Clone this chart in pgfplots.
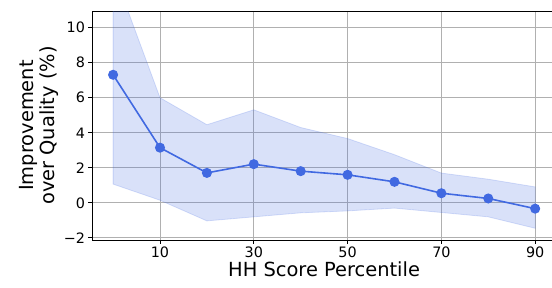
\documentclass[border=0pt]{standalone}
\usepackage{pgfplots}
\pgfplotsset{compat=1.18}
\usepackage{fontspec}
\setmainfont{DejaVu Sans}
\definecolor{rb}{RGB}{65,105,225}
\definecolor{gridc}{RGB}{176,176,176}
\begin{document}
\begin{tikzpicture}
\begin{axis}[
  scale only axis,
  width=471.3bp, height=229bp,
  xmin=-4.5, xmax=96,
  ymin=-2.12, ymax=10.95,
  xtick={10,30,50,70,90},
  ytick={-2,0,2,4,6,8,10},
  yticklabels={−2,0,2,4,6,8,10},
  /pgf/number format/assume math mode=true,
  tick label style={font=\fontsize{14.4}{16}\selectfont},
  label style={font=\fontsize{19.5}{22}\selectfont},
  tick align=outside,
  major tick length=3.5bp,
  tick style={black, line width=0.8bp},
  xtick pos=bottom, ytick pos=left,
  grid=major,
  major grid style={gridc, line width=0.8bp},
  axis line style={black, line width=0.8bp},
  xlabel={HH Score Percentile},
  ylabel={Improvement\\over Quality (\%)},
  ylabel style={align=center, yshift=-2bp},
  xlabel style={yshift=3bp, xshift=-3.6bp},
  clip=true,
]
\addplot[fill=rb, fill opacity=0.2, draw=rb, draw opacity=0.2, line width=0.8bp] coordinates {
  (0,13.25) (10,6.0) (20,4.46) (30,5.31) (40,4.3) (50,3.67) (60,2.75) (70,1.7) (80,1.35) (90,0.91)
  (90,-1.45) (80,-0.8) (70,-0.55) (60,-0.3) (50,-0.46) (40,-0.57) (30,-0.8) (20,-1.03) (10,0.15) (0,1.07)
} -- cycle;
\addplot[rb, line width=1.6bp, mark=*, mark size=4.2bp, mark options={fill=rb, draw=rb}] coordinates {
  (0,7.31) (10,3.15) (20,1.71) (30,2.21) (40,1.81) (50,1.6) (60,1.2) (70,0.55) (80,0.25) (90,-0.33)
};
\end{axis}
\pgfresetboundingbox
\path ([xshift=-92bp,yshift=-48bp]current axis.south west) rectangle ([xshift=460bp,yshift=11bp]current axis.north west);
\end{tikzpicture}
\end{document}
